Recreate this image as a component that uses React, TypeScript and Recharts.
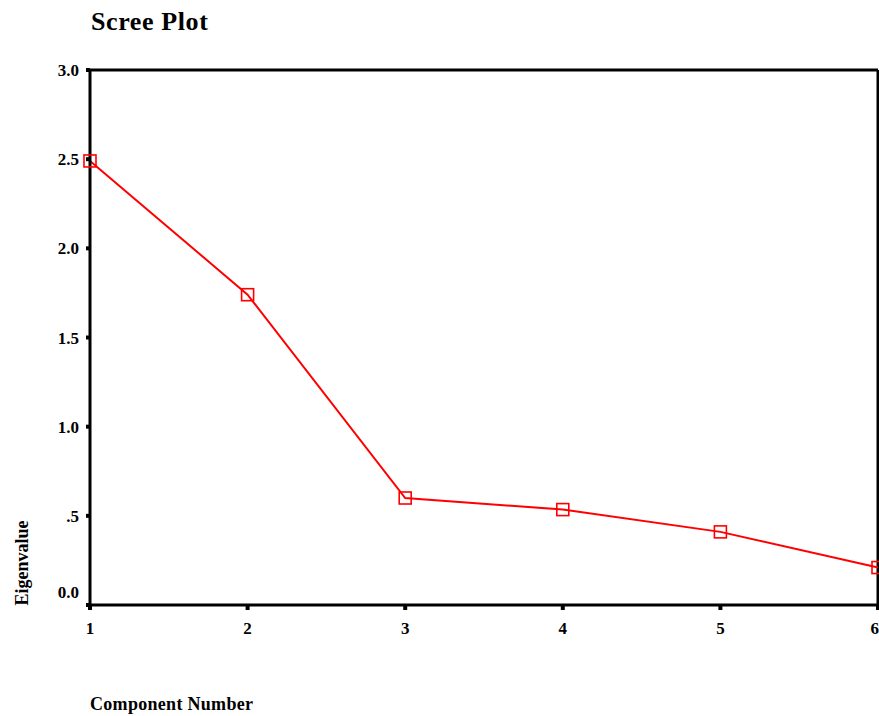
import React from 'react';
import { LineChart, Line, XAxis, YAxis, ReferenceLine } from 'recharts';

const components = [1, 2, 3, 4, 5, 6];
const eigenvalues = [2.49, 1.74, 0.6, 0.535, 0.41, 0.21];
const xTicks = [1, 2, 3, 4, 5, 6];
const yTicks = [0, 0.5, 1, 1.5, 2, 2.5, 3];
const yTickLabels = ['0.0', '.5', '1.0', '1.5', '2.0', '2.5', '3.0'];

const data = components.map((c, i) => ({ component: c, eigen: eigenvalues[i] }));

const FONT = '"Liberation Serif", serif';
const RED = '#ff0000';

const SquareDot = (props: any) => {
  const { cx, cy } = props;
  if (cx == null || cy == null) return null;
  return <rect x={cx - 6} y={cy - 6} width={12} height={12} fill="none" stroke={RED} strokeWidth={1.6} />;
};

const YTick = (props: any) => {
  const { x, y, payload } = props;
  const v = payload.value;
  const label = yTickLabels[yTicks.indexOf(v)];
  const dy = v === 0 ? -13 : 0;
  return (
    <text x={x} y={y + dy} dy="0.355em" textAnchor="end" fontFamily={FONT} fontWeight="bold" fontSize={17} fill="#000">
      {label}
    </text>
  );
};

export default function App() {
  return (
    <div style={{ position: 'absolute', left: 0, top: 0, width: 879, height: 716, background: '#fff' }}>
      <div style={{ position: 'absolute', left: 91, top: 7, fontFamily: FONT, fontWeight: 'bold', fontSize: 26, letterSpacing: 0.6, color: '#000' }}>
        Scree Plot
      </div>
      <LineChart width={879} height={716} data={data} margin={{ top: 70, right: 1, bottom: 0, left: 0 }}>
        <XAxis
          dataKey="component"
          type="number"
          domain={[1, 6]}
          ticks={xTicks}
          axisLine={{ stroke: '#000', strokeWidth: 3 }}
          tickLine={{ stroke: '#000', strokeWidth: 4 }}
          tickSize={5}
          tick={{ fill: '#000', fontFamily: FONT, fontWeight: 'bold', fontSize: 17 }}
          tickMargin={12}
          height={111}
          label={{
            content: () => (
              <text x={90} y={710} fontFamily={FONT} fontWeight="bold" fontSize={18} letterSpacing={0.3} fill="#000">
                Component Number
              </text>
            ),
          }}
        />
        <YAxis
          type="number"
          domain={[0, 3]}
          ticks={yTicks}
          width={90}
          axisLine={{ stroke: '#000', strokeWidth: 3 }}
          tickLine={{ stroke: '#000', strokeWidth: 4 }}
          tickSize={4}
          tick={<YTick />}
          tickMargin={7}
          label={{
            content: () => (
              <text
                x={28}
                y={563}
                transform="rotate(-90 28 563)"
                textAnchor="middle"
                fontFamily={FONT}
                fontWeight="bold"
                fontSize={18}
                fill="#000"
              >
                Eigenvalue
              </text>
            ),
          }}
        />
        <ReferenceLine y={3} stroke="#000" strokeWidth={3} ifOverflow="visible" />
        <ReferenceLine x={6} stroke="#000" strokeWidth={3} ifOverflow="visible" />
        <Line
          dataKey="eigen"
          stroke={RED}
          strokeWidth={2}
          dot={<SquareDot />}
          activeDot={false}
          isAnimationActive={false}
        />
      </LineChart>
    </div>
  );
}
